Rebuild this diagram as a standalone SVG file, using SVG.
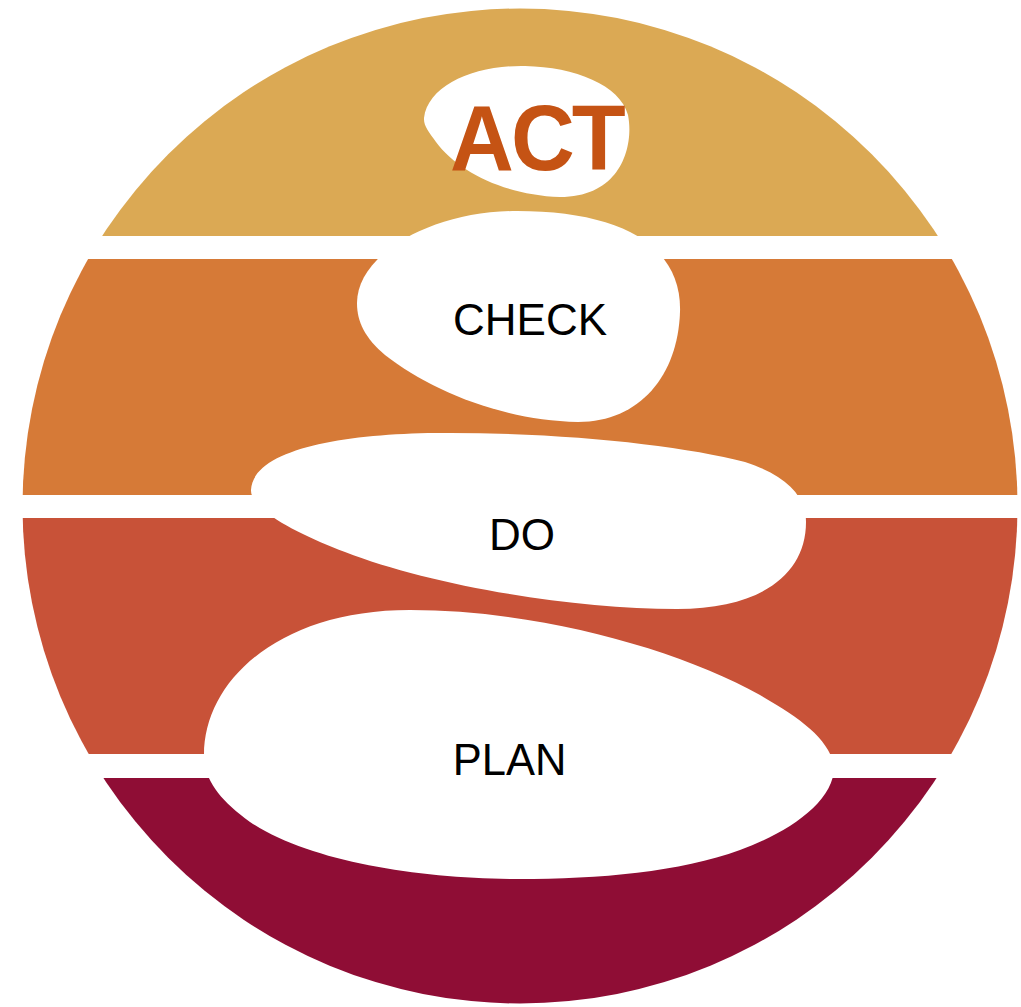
<svg xmlns="http://www.w3.org/2000/svg" width="1021" height="1007" viewBox="0 0 1021 1007">
<style>
.stone{fill:#fff}
.lbl{font-family:"Liberation Sans",Arial,sans-serif;font-size:44px;fill:#000;text-anchor:middle}
</style>
<defs><clipPath id="disc"><circle cx="520" cy="506" r="497.500"/></clipPath></defs>
<rect width="1021" height="1007" fill="#fff"/>
<g id="bands" clip-path="url(#disc)">
<rect x="0" y="0" width="1021" height="236" fill="#dba954"/>
<rect x="0" y="259" width="1021" height="236" fill="#d67a37"/>
<rect x="0" y="518" width="1021" height="236" fill="#c85238"/>
<rect x="0" y="778" width="1021" height="236" fill="#8f0d35"/>
</g>
<g id="act">
<path class="stone" d="M424 118C428 85 475 65 525 66C575 67 620 85 628 115C634 145 622 197 560 197C505 195 458 172 436 142C429 132 423.500 126 424 118Z"/>
<text transform="translate(536.500 170) scale(.96 1)" font-family="Liberation Sans,Arial,sans-serif" font-size="92" font-weight="700" fill="#c55314" text-anchor="middle" letter-spacing="-3">ACT</text>
</g>
<g id="check">
<path class="stone" d="M357 303C357 255 430 211 517 211C620 211 682 245 680 312C678 375 640 422 578 422C500 420 430 390 385 355C365 338 357 322 357 303Z"/>
<text class="lbl" x="530" y="335">CHECK</text>
</g>
<g id="do">
<path class="stone" d="M251 490C253 450 340 434 436 433C560 432 680 445 745 462C785 475 806 495 806 522C806 575 760 609 677 609C570 609 430 585 345 552C300 535 250 510 251 490Z"/>
<text class="lbl" x="522" y="550">DO</text>
</g>
<g id="plan">
<path class="stone" d="M204 755C204 680 280 610 410 610C540 610 680 650 760 695C800 718 828 738 834 765C836 800 790 832 740 850C680 872 600 879 518 879C420 879 310 862 250 822C220 800 204 780 204 755Z"/>
<text class="lbl" x="509.500" y="775" style="font-size:43.500px">PLAN</text>
</g>
<g id="connectors"/>
</svg>
